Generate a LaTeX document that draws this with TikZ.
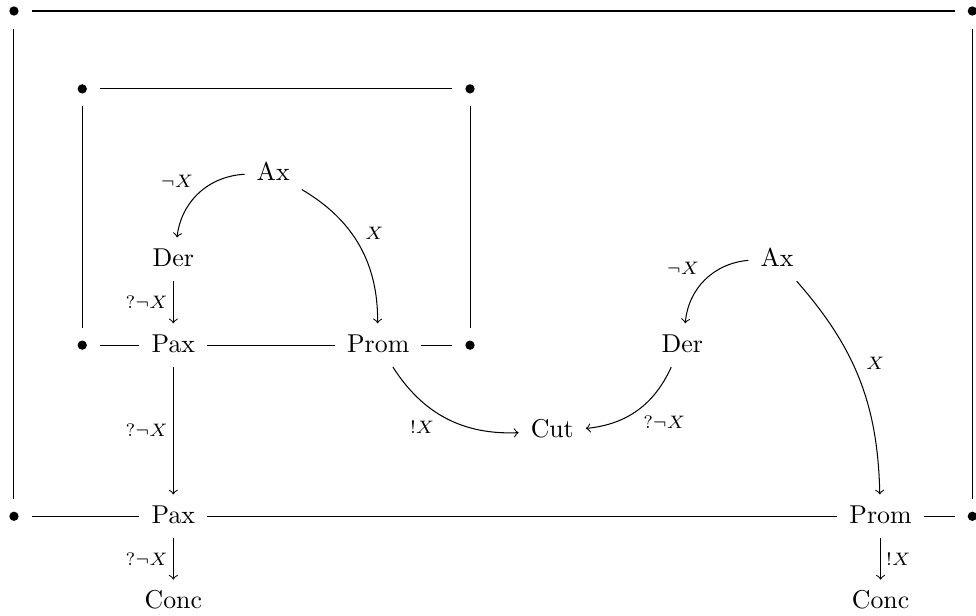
\documentclass[tikz,border=0pt]{standalone}
\usepackage{amsmath,amssymb}
\usepackage{tikz}

\begin{document}
\begin{tikzpicture}[
  pt/.style={circle, fill, inner sep=0pt, minimum size=3.6pt, outer sep=5pt},
  cell/.style={inner sep=4.5pt, text height=1.5ex, text depth=0.25ex},
  lab/.style={font=\scriptsize, inner sep=2pt}]
\useasboundingbox (0,0) rectangle (13.29,-8.38);
% outer box
\node[pt] (o1) at (0.19,-0.15) {};
\node[pt] (o2) at (13.24,-0.15) {};
\node[pt] (o3) at (0.19,-7.03) {};
\node[pt] (o4) at (13.24,-7.03) {};
% inner box
\node[pt] (i1) at (1.12,-1.21) {};
\node[pt] (i2) at (6.40,-1.21) {};
\node[pt] (i3) at (1.12,-4.70) {};
\node[pt] (i4) at (6.40,-4.70) {};
% left part
\node[cell] (ax1) at (3.72,-2.37) {Ax};
\node[cell] (der1) at (2.36,-3.53) {Der};
\node[cell] (pax1) at (2.36,-4.70) {Pax};
\node[cell] (prom1) at (5.15,-4.70) {Prom};
\node[cell] (pax2) at (2.36,-7.03) {Pax};
\node[cell] (conc1) at (2.36,-8.19) {Conc};
% cut and right part
\node[cell] (cut) at (7.52,-5.86) {Cut};
\node[cell] (ax2) at (10.58,-3.53) {Ax};
\node[cell] (der2) at (9.29,-4.70) {Der};
\node[cell] (prom2) at (11.99,-7.03) {Prom};
\node[cell] (conc2) at (11.99,-8.19) {Conc};

\draw (o1) -- (o2);
\draw (o1) -- (o3);
\draw (o2) -- (o4);
\draw (o3) -- (pax2) (pax2) -- (prom2) (prom2) -- (o4);
\draw (i1) -- (i2);
\draw (i1) -- (i3);
\draw (i2) -- (i4);
\draw (i3) -- (pax1) (pax1) -- (prom1) (prom1) -- (i4);

\draw[->] (ax1) to[bend right=40] node[lab, above left] {$\neg X$} (der1);
\draw[->] (ax1) to[bend left=30] node[lab, above right] {$X$} (prom1);
\draw[->] (der1) -- node[lab, left] {$?\neg X$} (pax1);
\draw[->] (pax1) -- node[lab, left] {$?\neg X$} (pax2);
\draw[->] (prom1) to[bend right=30] node[lab, pos=0.45, below left] {$!X$} (cut);
\draw[->] (ax2) to[bend right=40] node[lab, above left] {$\neg X$} (der2);
\draw[->] (ax2) to[bend left=20] node[lab, pos=0.42, right=3pt] {$X$} (prom2);
\draw[->] (der2) to[bend left=30] node[lab, below right] {$?\neg X$} (cut);
\draw[->] (pax2) -- node[lab, left] {$?\neg X$} (conc1);
\draw[->] (prom2) -- node[lab, right] {$!X$} (conc2);
\end{tikzpicture}
\end{document}
